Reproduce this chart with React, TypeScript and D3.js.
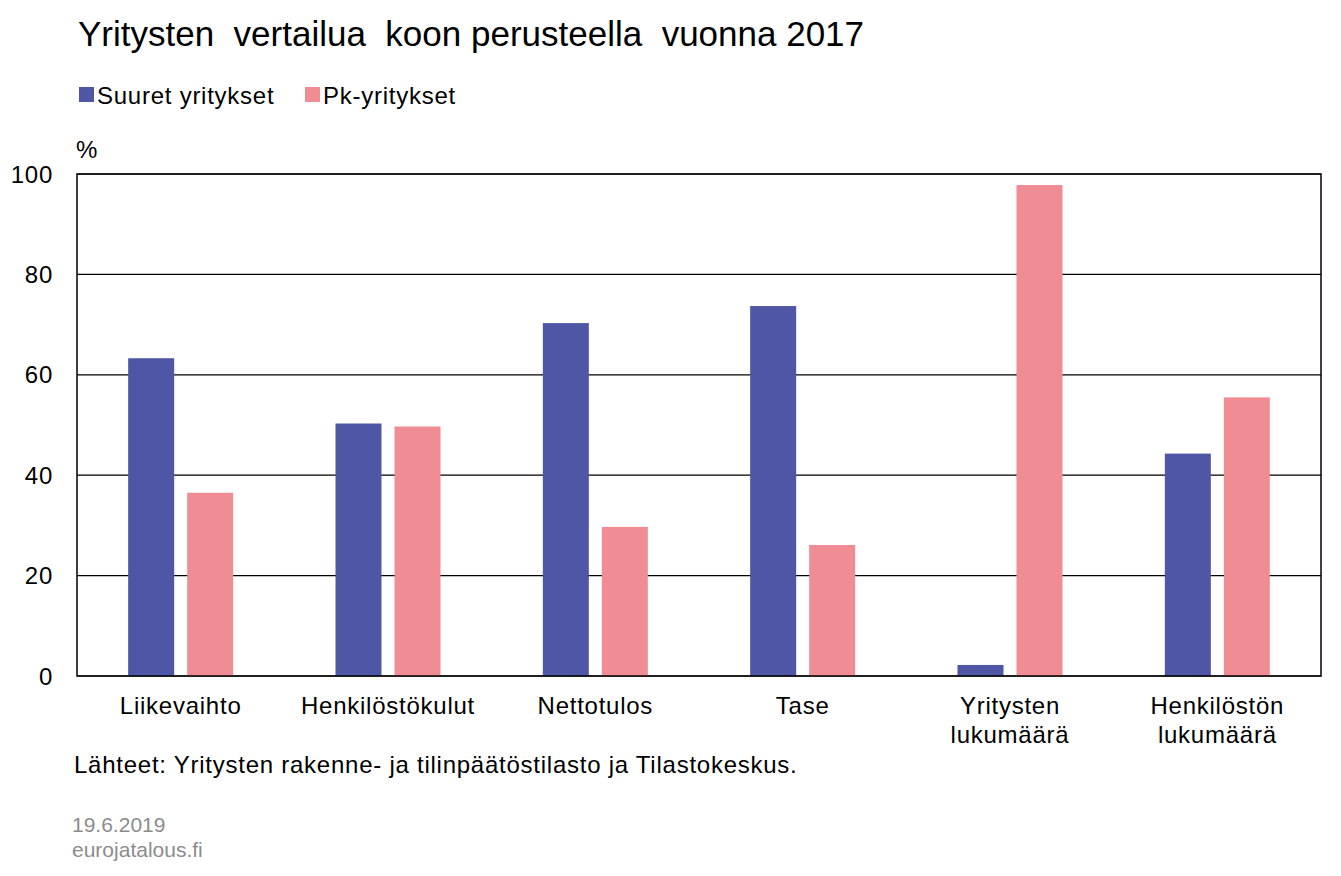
import React from "react";
import * as d3 from "d3";

const width = 1341;
const height = 876;

// categories (two-line labels split by "\n")
const categories = [
  "Liikevaihto",
  "Henkilöstökulut",
  "Nettotulos",
  "Tase",
  "Yritysten\nlukumäärä",
  "Henkilöstön\nlukumäärä",
];
const seriesNames = ["Suuret yritykset", "Pk-yritykset"];
const suuret = [63.3, 50.3, 70.3, 73.7, 2.2, 44.3];
const pk = [36.5, 49.7, 29.7, 26.1, 97.8, 55.5];
const yTicks = [0, 20, 40, 60, 80, 100];

const colors = ["#4e56a5", "#f08c94"];
const font = "'Liberation Sans', Arial, sans-serif";
const ls = 0.75; // letter spacing to mimic the wider original rendering

const margin = { top: 174, right: 20, bottom: 200, left: 77 };

const App: React.FC = () => {
  const x0 = d3
    .scaleBand<string>()
    .domain(categories)
    .range([margin.left, width - margin.right]);
  const groupW = 105;
  const x1 = d3
    .scaleBand<string>()
    .domain(seriesNames)
    .range([0, groupW])
    .paddingInner(13 / 59);
  const y = d3
    .scaleLinear()
    .domain([0, 100])
    .range([height - margin.bottom, margin.top]);

  const values = [suuret, pk];
  const left = margin.left;
  const right = width - margin.right;

  return (
    <svg
      width={width}
      height={height}
      style={{ position: "absolute", left: 0, top: 0, background: "#fff" }}
      fontFamily={font}
    >
      <text x={78} y={46} fontSize={35} fill="#000" style={{ whiteSpace: "pre" }}>
        {"Yritysten  vertailua  koon perusteella  vuonna 2017"}
      </text>

      {/* legend */}
      {seriesNames.map((s, i) => {
        const lx = i === 0 ? 79 : 305;
        return (
          <g key={s}>
            <rect x={lx} y={87} width={15} height={15} fill={colors[i]} />
            <text x={lx + 18} y={104} fontSize={24} letterSpacing={ls} fill="#000">
              {s}
            </text>
          </g>
        );
      })}

      <text x={76} y={158} fontSize={24} fill="#000">%</text>

      {/* gridlines */}
      {yTicks.map((t) => (
        <g key={t}>
          <line x1={left} x2={right} y1={y(t)} y2={y(t)} stroke="#000" strokeWidth={1.2} />
          <text
            x={53}
            y={y(t)}
            dy="0.36em"
            textAnchor="end"
            fontSize={24}
            letterSpacing={ls}
            fill="#000"
          >
            {t}
          </text>
        </g>
      ))}

      {/* bars */}
      {categories.map((c, ci) => (
        <g key={c} transform={`translate(${x0(c)! + (x0.bandwidth() - groupW) / 2},0)`}>
          {seriesNames.map((s, si) => (
            <rect
              key={s}
              x={x1(s)}
              width={x1.bandwidth()}
              y={y(values[si][ci])}
              height={y(0) - y(values[si][ci])}
              fill={colors[si]}
            />
          ))}
        </g>
      ))}

      {/* frame */}
      <rect
        x={left}
        y={y(100)}
        width={right - left}
        height={y(0) - y(100)}
        fill="none"
        stroke="#000"
        strokeWidth={1.5}
      />

      {/* category labels */}
      {categories.map((c) => (
        <text
          key={c}
          x={x0(c)! + x0.bandwidth() / 2}
          y={714}
          textAnchor="middle"
          fontSize={24}
          letterSpacing={ls}
          fill="#000"
        >
          {c.split("\n").map((line, li) => (
            <tspan key={li} x={x0(c)! + x0.bandwidth() / 2} dy={li === 0 ? 0 : 29}>
              {line}
            </tspan>
          ))}
        </text>
      ))}

      <text x={74} y={773} fontSize={24} letterSpacing={ls} fill="#000">
        Lähteet: Yritysten rakenne- ja tilinpäätöstilasto ja Tilastokeskus.
      </text>
      <text x={72} y={832} fontSize={21} fill="#8c8c8c">19.6.2019</text>
      <text x={72} y={857} fontSize={21} fill="#8c8c8c">eurojatalous.fi</text>
    </svg>
  );
};

export default App;
